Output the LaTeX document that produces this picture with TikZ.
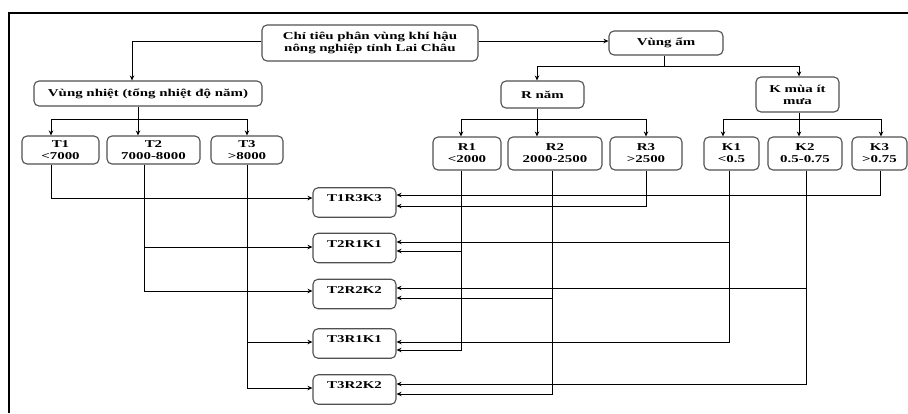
\documentclass[tikz,border=0pt]{standalone}
\usepackage{fontspec}
\setmainfont{Liberation Serif}[FakeStretch=1.42]
\usetikzlibrary{arrows.meta,calc}
\definecolor{boxgray}{HTML}{505050}
\begin{document}
\begin{tikzpicture}[x=1pt,y=-1pt,
  box/.style={draw=boxgray, line width=1.1pt, rounded corners=5pt, inner sep=0pt, align=center,
    font=\fontsize{10.5}{12}\selectfont\bfseries},
  res/.style={box, minimum width=83pt, minimum height=29.5pt, text height=14pt, text depth=15.5pt},
  arr/.style={-{Stealth[length=5pt,width=4.5pt]}, line width=0.8pt},
  ln/.style={line width=0.8pt}]
\useasboundingbox (0,0) rectangle (908,413);
% frame
\draw[line width=2pt] (908,13) -- (9,13) -- (9,413);
% top level
\node[box, minimum width=216pt, minimum height=36pt] (main) at (370,43) {Chỉ tiêu phân vùng khí hậu\\nông nghiệp tỉnh Lai Châu};
\node[box, minimum width=228pt, minimum height=25pt] (vn) at (148,93.5) {Vùng nhiệt (tổng nhiệt độ năm)};
\node[box, minimum width=114pt, minimum height=24pt] (va) at (666,43) {Vùng ẩm};
\node[box, minimum width=83pt, minimum height=27pt] (rn) at (542.5,94.5) {R năm};
\node[box, minimum width=83pt, minimum height=35pt] (km) at (797.5,94.5) {K mùa ít\\mưa};
% T boxes
\node[box, minimum width=77pt, minimum height=28pt] (T1) at (60.5,150) {T1\\<7000};
\node[box, minimum width=93pt, minimum height=28pt] (T2) at (153.5,150) {T2\\7000-8000};
\node[box, minimum width=72pt, minimum height=28pt] (T3) at (247,150) {T3\\>8000};
% R boxes
\node[box, minimum width=68pt, minimum height=33pt] (R1) at (467,153.5) {R1\\<2000};
\node[box, minimum width=94pt, minimum height=33pt] (R2) at (555,153.5) {R2\\2000-2500};
\node[box, minimum width=72pt, minimum height=33pt] (R3) at (646,153.5) {R3\\>2500};
% K boxes
\node[box, minimum width=55pt, minimum height=33pt] (K1) at (731.5,153.5) {K1\\<0.5};
\node[box, minimum width=74pt, minimum height=33pt] (K2) at (805,153.5) {K2\\0.5-0.75};
\node[box, minimum width=55pt, minimum height=33pt] (K3) at (879.5,153.5) {K3\\>0.75};
% result boxes
\node[res] (A) at (354.5,202.5) {T1R3K3};
\node[res] (B) at (354.5,248) {T2R1K1};
\node[res] (C) at (354.5,294) {T2R2K2};
\node[res] (D) at (354.5,343.5) {T3R1K1};
\node[res] (E) at (354.5,389.5) {T3R2K2};
% top connectors
\draw[arr] ([yshift=2pt]main.west) -| ([xshift=-16pt]vn.north);
\draw[arr] ([yshift=2pt]main.east) -- ([yshift=2pt]va.west);
% Vung nhiet bus
\draw[ln] ([xshift=-10pt]vn.south) -- ++(0,13) coordinate (vb);
\draw[arr] (vb) -| ([xshift=-9.5pt]T1.north);
\draw[arr] (vb) -| ([xshift=-15.5pt]T2.north);
\draw[arr] (vb) -| (T3.north);
% Vung am bus
\draw[ln] ([xshift=-2pt]va.south) -- ++(0,11) coordinate (ab);
\draw[arr] (ab) -| ([xshift=-5.5pt]rn.north);
\draw[arr] (ab) -| ([xshift=1.5pt]km.north);
% R nam bus
\draw[ln] ([xshift=-5.5pt]rn.south) -- ++(0,11) coordinate (rb);
\draw[arr] (rb) -| ([xshift=-6pt]R1.north);
\draw[arr] (rb) -| ([xshift=-18pt]R2.north);
\draw[arr] (rb) -| (R3.north);
% K bus
\draw[ln] ([xshift=1.5pt]km.south) -- ++(0,7) coordinate (kb);
\draw[arr] (kb) -| ([xshift=-8.5pt]K1.north);
\draw[arr] (kb) -| ([xshift=-6pt]K2.north);
\draw[arr] (kb) -| ([xshift=1.5pt]K3.north);
% left inputs
\draw[arr] ([xshift=-9.5pt]T1.south) |- ([yshift=4.5pt]A.west);
\draw[arr] ([xshift=-9.5pt]T2.south) |- ([yshift=1pt]B.west);
\draw[arr] ([xshift=-9.5pt]T2.south) |- ([yshift=3pt]C.west);
\draw[arr] (T3.south) |- ([yshift=1.5pt]D.west);
\draw[arr] (T3.south) |- ([yshift=1.5pt]E.west);
% right inputs
\draw[arr] ([xshift=0.5pt]K3.south) |- ([yshift=7.5pt]A.east);
\draw[arr] (R3.south) |- ([yshift=-3.5pt]A.east);
\draw[arr] ([xshift=-2.5pt]K1.south) |- ([yshift=6pt]B.east);
\draw[arr] ([xshift=-6pt]R1.south) |- ([yshift=-3pt]B.east);
\draw[arr] ([xshift=1pt]K2.south) |- ([yshift=6pt]C.east);
\draw[arr] ([xshift=-3pt]R2.south) |- ([yshift=-4pt]C.east);
\draw[arr] ([xshift=-2.5pt]K1.south) |- ([yshift=1.5pt]D.east);
\draw[arr] ([xshift=-6pt]R1.south) |- ([yshift=-6.5pt]D.east);
\draw[arr] ([xshift=1pt]K2.south) |- ([yshift=5.5pt]E.east);
\draw[arr] ([xshift=-3pt]R2.south) |- ([yshift=-4.5pt]E.east);
\end{tikzpicture}
\end{document}
